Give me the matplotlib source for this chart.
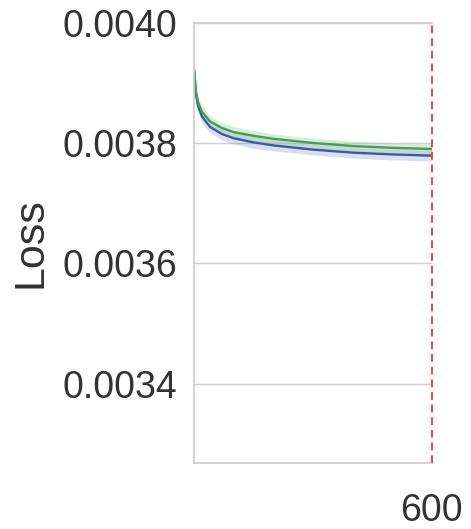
import matplotlib
matplotlib.use("Agg")
import matplotlib.pyplot as plt
import numpy as np

plt.rcParams['font.family'] = ['Liberation Sans', 'DejaVu Sans']

epochs = [0, 5, 10, 20, 40, 70, 100, 150, 200, 300, 400, 500, 600]
green_mean = [0.003921, 0.003885, 0.003868, 0.003852, 0.003836, 0.003825, 0.003818, 0.003812,
              0.003807, 0.003800, 0.003795, 0.003792, 0.003790]
green_std = [0.000006, 0.000008, 0.000009, 0.000009, 0.000009, 0.000009, 0.000009, 0.000009,
             0.000008, 0.000008, 0.000008, 0.000008, 0.000008]
blue_mean = [0.003921, 0.003880, 0.003862, 0.003844, 0.003827, 0.003815, 0.003808, 0.003801,
             0.003796, 0.003789, 0.003784, 0.003781, 0.003779]
blue_std = [0.000006, 0.000008, 0.000010, 0.000010, 0.000010, 0.000010, 0.000010, 0.000010,
            0.000009, 0.000009, 0.000009, 0.000009, 0.000009]
yticks = [0.0034, 0.0036, 0.0038, 0.0040]
ytick_labels = ["0.0034", "0.0036", "0.0038", "0.0040"]
xticks = [600]
vline_x = 600

fig = plt.figure(figsize=(4.71, 5.29), dpi=100)
ax = fig.add_axes([0.412, 0.125, 0.505, 0.832])

e = np.array(epochs)
gm, gs = np.array(green_mean), np.array(green_std)
bm, bs = np.array(blue_mean), np.array(blue_std)

ax.fill_between(e, bm - bs, bm + bs, color='#7f96d0', alpha=0.3, linewidth=0)
ax.fill_between(e, gm - gs, gm + gs, color='#8fcf8f', alpha=0.35, linewidth=0)
ax.plot(e, bm, color='#3d5a9e', lw=1.7)
ax.plot(e, gm, color='#4a9a5c', lw=1.7)

ax.axvline(vline_x, color='#e8453c', ls=(0, (4, 2.5)), lw=1.4, zorder=5, clip_on=False)

ax.set_xlim(0, 600)
ax.set_ylim(0.003268, 0.0040)
ax.set_yticks(yticks)
ax.set_yticklabels(ytick_labels)
ax.set_xticks(xticks)
ax.tick_params(axis='both', length=0, labelsize=27, colors='#333333')
ax.tick_params(axis='y', pad=12)
ax.tick_params(axis='x', pad=22)
ax.grid(axis='y', color='#d0d0d0', lw=1.0)
ax.set_axisbelow(True)
for s in ['left', 'top', 'bottom']:
    ax.spines[s].set_color('#cccccc')
    ax.spines[s].set_linewidth(1.2)
ax.spines['right'].set_visible(False)

ax.set_ylabel("Loss", fontsize=31, color='#333333', labelpad=9)

fig.savefig("out.png", dpi=100, facecolor='white')
